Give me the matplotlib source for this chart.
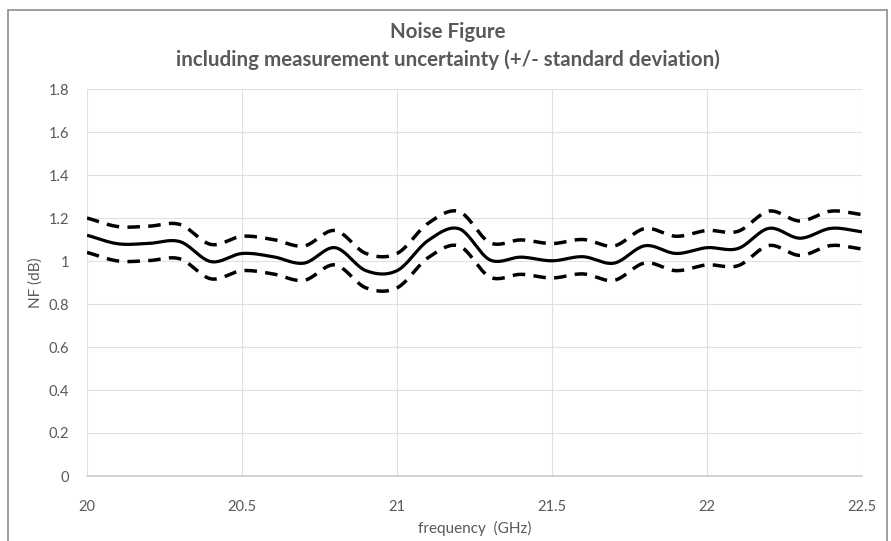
import numpy as np
import matplotlib.pyplot as plt
from matplotlib.patches import Rectangle

# Measured noise figure, 0.1 GHz steps
freq_ghz = [20.0, 20.1, 20.2, 20.3, 20.4, 20.5, 20.6, 20.7, 20.8, 20.9,
            21.0, 21.1, 21.2, 21.3, 21.4, 21.5, 21.6, 21.7, 21.8, 21.9,
            22.0, 22.1, 22.2, 22.3, 22.4, 22.5]
nf_db = [1.12, 1.08, 1.082, 1.09, 0.997, 1.035, 1.02, 0.99, 1.062, 0.955,
         0.955, 1.095, 1.15, 1.005, 1.018, 1.001, 1.02, 0.99, 1.071, 1.035,
         1.062, 1.058, 1.152, 1.106, 1.152, 1.136]
nf_std = 0.08

y_ticks = [0, 0.2, 0.4, 0.6, 0.8, 1, 1.2, 1.4, 1.6, 1.8]
y_tick_labels = ["0", "0.2", "0.4", "0.6", "0.8", "1", "1.2", "1.4", "1.6", "1.8"]
x_ticks = [20, 20.5, 21, 21.5, 22, 22.5]
x_tick_labels = ["20", "20.5", "21", "21.5", "22", "22.5"]


def smooth(x, y, n=20):
    # Catmull-Rom style smoothing through the measured points
    x = np.asarray(x, float)
    y = np.asarray(y, float)
    px = np.concatenate([[2 * x[0] - x[1]], x, [2 * x[-1] - x[-2]]])
    py = np.concatenate([[2 * y[0] - y[1]], y, [2 * y[-1] - y[-2]]])
    xs, ys = [], []
    t = np.linspace(0, 1, n, endpoint=False)
    for i in range(1, len(px) - 2):
        for arr, out in ((px, xs), (py, ys)):
            p0, p1, p2, p3 = arr[i - 1], arr[i], arr[i + 1], arr[i + 2]
            out.extend(0.5 * (2 * p1 + (-p0 + p2) * t
                              + (2 * p0 - 5 * p1 + 4 * p2 - p3) * t ** 2
                              + (-p0 + 3 * p1 - 3 * p2 + p3) * t ** 3))
    xs.append(x[-1])
    ys.append(y[-1])
    return np.array(xs), np.array(ys)


plt.rcParams['font.family'] = ['Lato', 'DejaVu Sans']
text_color = "#595959"

fig = plt.figure(figsize=(8.91, 5.41), dpi=100)
ax = fig.add_axes([87 / 891, 1 - 476 / 541, 775 / 891, 387 / 541])

nf = np.array(nf_db)
for vals, style in ((nf, "-"), (nf + nf_std, "--"), (nf - nf_std, "--")):
    sx, sy = smooth(freq_ghz, vals)
    if style == "-":
        ax.plot(sx, sy, color="black", lw=2.3, solid_capstyle="butt")
    else:
        ax.plot(sx, sy, color="black", lw=2.5, dashes=(3.6, 2.4))

ax.set_xlim(20, 22.5)
ax.set_ylim(0, 1.8)
ax.set_xticks(x_ticks)
ax.set_xticklabels(x_tick_labels)
ax.set_yticks(y_ticks)
ax.set_yticklabels(y_tick_labels)
ax.grid(True, color="#e0e0e0", lw=0.8)
ax.set_axisbelow(True)
for side in ("top", "right", "left"):
    ax.spines[side].set_visible(False)
ax.spines["bottom"].set_color("#c8c8c8")
ax.spines["bottom"].set_linewidth(1.1)
ax.tick_params(length=0, labelsize=10.5, colors=text_color)
ax.tick_params(axis="x", pad=17)
ax.tick_params(axis="y", pad=13)

ax.set_xlabel("frequency  (GHz)", fontsize=11, color=text_color, labelpad=5)
ax.set_ylabel("NF (dB)", fontsize=11, color=text_color, labelpad=4)

fig.text(0.503, 1 - 32 / 541, "Noise Figure", ha="center", va="center",
         fontsize=14.8, fontweight="bold", color=text_color)
fig.text(0.503, 1 - 60 / 541,
         "including measurement uncertainty (+/- standard deviation)",
         ha="center", va="center", fontsize=14.8, fontweight="bold",
         color=text_color)

# chart border
fig.patches.append(Rectangle((8 / 891, -0.02), 879 / 891, 1.02 - 10 / 541,
                             transform=fig.transFigure, fill=False,
                             edgecolor="#8c8c8c", lw=1.2))

fig.savefig("out.png", dpi=100)
